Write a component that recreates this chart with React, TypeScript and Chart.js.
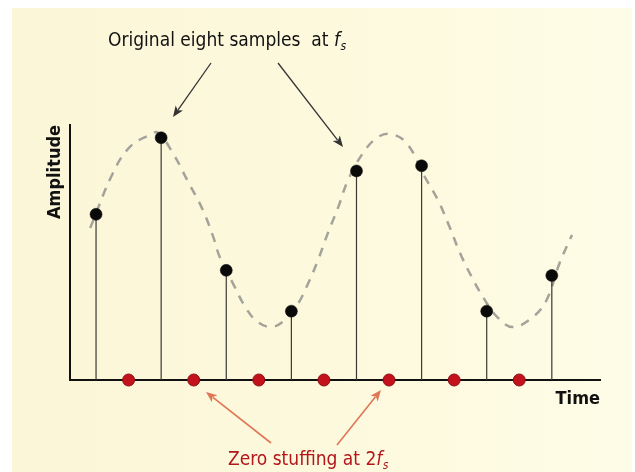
import React, { useEffect, useRef } from "react";
import { Chart, registerables } from "chart.js";
Chart.register(...registerables);

// ---- data ----
const sampleTimes = [0, 1, 2, 3, 4, 5, 6, 7];
const sampleValues = [0.65, 0.95, 0.43, 0.27, 0.82, 0.84, 0.27, 0.41];
const stuffTimes = [0.5, 1.5, 2.5, 3.5, 4.5, 5.5, 6.5];
const stuffValues = [0, 0, 0, 0, 0, 0, 0];
const curveTimes = [-0.09, 0.26, 0.52, 0.83, 0.95, 1.18, 1.4, 1.64, 1.8, 1.9, 2.1, 2.32, 2.5, 2.7, 2.9, 3.09, 3.26, 3.41, 3.56, 3.72, 3.87, 4.1, 4.31, 4.51, 4.77, 5.05, 5.25, 5.43, 5.59, 5.77, 5.97, 6.17, 6.4, 6.71, 6.92, 7.12, 7.31];
const curveValues = [0.596, 0.812, 0.914, 0.962, 0.97, 0.89, 0.784, 0.667, 0.561, 0.482, 0.38, 0.275, 0.225, 0.208, 0.235, 0.294, 0.38, 0.471, 0.576, 0.678, 0.784, 0.89, 0.949, 0.965, 0.929, 0.796, 0.706, 0.6, 0.498, 0.404, 0.314, 0.245, 0.208, 0.247, 0.314, 0.459, 0.569];
const xTitle = "Time";
const yTitle = "Amplitude";
const topNote = "Original eight samples  at ";
const bottomNote = "Zero stuffing at 2";

const FONT = "'Liberation Sans Narrow', 'Arial Narrow', 'DejaVu Sans Condensed', sans-serif";

function arrow(ctx: CanvasRenderingContext2D, x1: number, y1: number, x2: number, y2: number, color: string, w: number) {
  const ang = Math.atan2(y2 - y1, x2 - x1);
  const hl = 11, hw = 4.5;
  ctx.save();
  ctx.strokeStyle = color;
  ctx.fillStyle = color;
  ctx.lineWidth = w;
  ctx.beginPath();
  ctx.moveTo(x1, y1);
  ctx.lineTo(x2 - Math.cos(ang) * hl * 0.8, y2 - Math.sin(ang) * hl * 0.8);
  ctx.stroke();
  ctx.beginPath();
  ctx.moveTo(x2, y2);
  ctx.lineTo(x2 - Math.cos(ang) * hl + Math.sin(ang) * hw, y2 - Math.sin(ang) * hl - Math.cos(ang) * hw);
  ctx.lineTo(x2 - Math.cos(ang) * hl * 0.75, y2 - Math.sin(ang) * hl * 0.75);
  ctx.lineTo(x2 - Math.cos(ang) * hl - Math.sin(ang) * hw, y2 - Math.sin(ang) * hl + Math.cos(ang) * hw);
  ctx.closePath();
  ctx.fill();
  ctx.restore();
}

function fsText(ctx: CanvasRenderingContext2D, text: string, x: number, y: number, size: number, color: string) {
  ctx.save();
  ctx.fillStyle = color;
  ctx.textBaseline = "alphabetic";
  ctx.textAlign = "left";
  ctx.font = `${size}px ${FONT}`;
  ctx.fillText(text, x, y);
  let cx = x + ctx.measureText(text).width;
  ctx.font = `italic ${size}px ${FONT}`;
  ctx.fillText("f", cx, y);
  cx += ctx.measureText("f").width + 0.5;
  ctx.font = `italic ${Math.round(size * 0.65)}px ${FONT}`;
  ctx.fillText("s", cx, y + 4);
  ctx.restore();
}

const bgPlugin = {
  id: "bg",
  beforeDraw(chart: any) {
    const ctx = chart.ctx as CanvasRenderingContext2D;
    ctx.save();
    ctx.fillStyle = "#ffffff";
    ctx.fillRect(0, 0, chart.width, chart.height);
    const g = ctx.createLinearGradient(12, 0, 632, 0);
    g.addColorStop(0, "#fcf6d8");
    g.addColorStop(0.5, "#fdf9dd");
    g.addColorStop(1, "#fdfce6");
    ctx.fillStyle = g;
    ctx.fillRect(12, 8, 620, chart.height - 8);
    ctx.restore();
  },
};

const notePlugin = {
  id: "notes",
  afterDraw(chart: any) {
    const ctx = chart.ctx as CanvasRenderingContext2D;
    fsText(ctx, topNote, 108, 46, 19, "#111111");
    arrow(ctx, 211, 63, 173, 117, "#333333", 1.3);
    arrow(ctx, 278, 63, 343, 147, "#333333", 1.3);
    fsText(ctx, bottomNote, 228, 465, 19, "#b3161b");
    arrow(ctx, 271, 443, 206, 392, "#e07656", 1.6);
    arrow(ctx, 337, 445, 381, 390, "#e07656", 1.6);
  },
};

export default function App() {
  const ref = useRef<HTMLCanvasElement | null>(null);
  useEffect(() => {
    if (!ref.current) return;
    const stems: any[] = [];
    sampleTimes.forEach((t, i) => {
      stems.push({ x: t, y: 0 }, { x: t, y: sampleValues[i] }, { x: t, y: null });
    });
    const chart = new Chart(ref.current, {
      type: "line",
      data: {
        datasets: [
          {
            label: "samples",
            data: sampleTimes.map((t, i) => ({ x: t, y: sampleValues[i] })),
            showLine: false,
            pointRadius: 6,
            pointBackgroundColor: "#0a0a0a",
            pointBorderColor: "#0a0a0a",
            pointBorderWidth: 0.5,
            clip: false,
            order: 0,
          },
          {
            label: "zeros",
            data: stuffTimes.map((t, i) => ({ x: t, y: stuffValues[i] })),
            showLine: false,
            pointRadius: 6,
            pointBackgroundColor: "#c3121c",
            pointBorderColor: "#8e1016",
            pointBorderWidth: 1,
            clip: false,
            order: 1,
          },
          {
            label: "stems",
            data: stems,
            borderColor: "#3a3a36",
            borderWidth: 1.2,
            pointRadius: 0,
            spanGaps: false,
            tension: 0,
            order: 2,
          },
          {
            label: "curve",
            data: curveTimes.map((t, i) => ({ x: t, y: curveValues[i] })),
            borderColor: "#a3a39a",
            borderWidth: 2.5,
            borderDash: [9, 8],
            pointRadius: 0,
            tension: 0.4,
            clip: false,
            order: 3,
          },
        ],
      },
      options: {
        animation: false,
        responsive: false,
        events: [],
        layout: { padding: { left: 46, right: 35, top: 125, bottom: 64 } },
        plugins: { legend: { display: false }, tooltip: { enabled: false }, title: { display: false } },
        scales: {
          x: {
            type: "linear",
            min: -0.4,
            max: 7.74,
            grid: { display: true, color: "rgba(0,0,0,0)", drawTicks: false },
            border: { display: true, color: "#111111", width: 2 },
            ticks: { display: false },
            title: {
              display: true,
              text: xTitle,
              align: "end",
              color: "#111111",
              font: { family: FONT, size: 18, weight: "bold", lineHeight: 1 },
              padding: { top: 10, bottom: 0 },
            },
          },
          y: {
            type: "linear",
            min: 0,
            max: 1,
            grid: { display: true, color: "rgba(0,0,0,0)", drawTicks: false },
            border: { display: true, color: "#111111", width: 2 },
            ticks: { display: false },
            title: {
              display: true,
              text: yTitle,
              align: "end",
              color: "#111111",
              font: { family: FONT, size: 18, weight: "bold", lineHeight: 1 },
              padding: { top: 0, bottom: 6 },
            },
          },
        },
      },
      plugins: [bgPlugin, notePlugin],
    } as any);
    return () => chart.destroy();
  }, []);
  return (
    <div style={{ position: "absolute", left: 0, top: 0, width: 635, height: 472 }}>
      <canvas ref={ref} width={635} height={472} style={{ width: 635, height: 472, display: "block" }} />
    </div>
  );
}
